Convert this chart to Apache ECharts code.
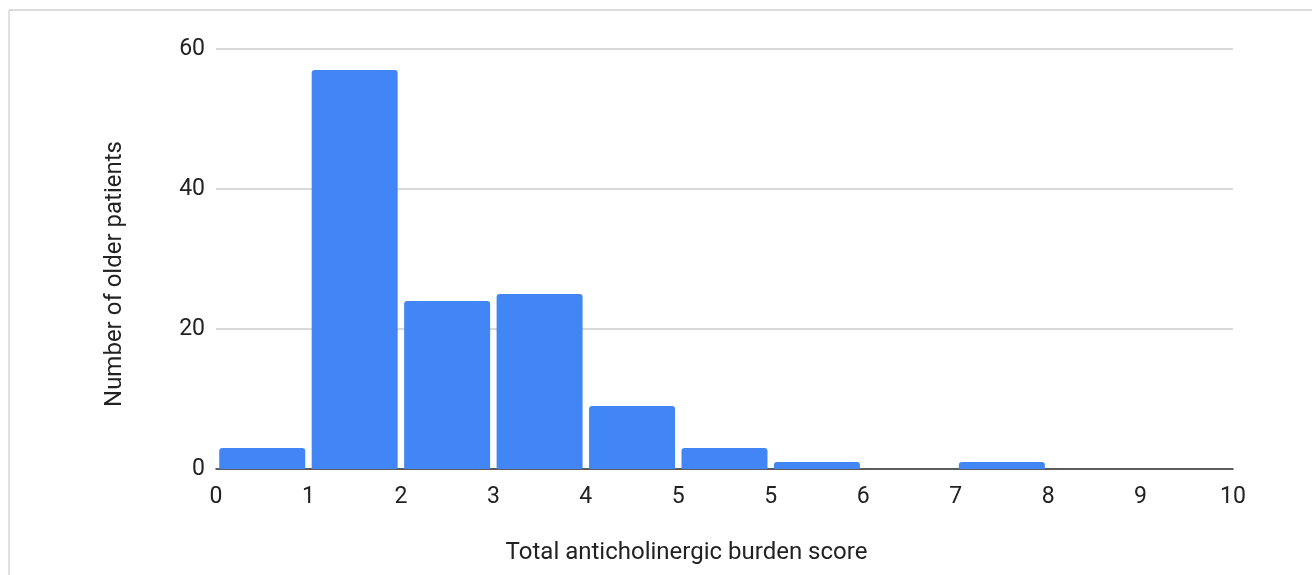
<!DOCTYPE html>
<html>
<head>
<meta charset="utf-8">
<script src="https://cdn.jsdelivr.net/npm/echarts@6/dist/echarts.min.js"></script>
<style>
  html, body { margin: 0; padding: 0; background: #fff; }
  #chart { width: 1312px; height: 575px; }
</style>
</head>
<body>
<div id="chart"></div>
<script>
// bucket edges as printed under the axis (Sheets rounding gives two "5")
var edgeLabels = ['0', '1', '2', '3', '4', '5', '5', '6', '7', '8', '9', '10'];
// one entry per bucket
var buckets = ['b0', 'b1', 'b2', 'b3', 'b4', 'b5', 'b6', 'b7', 'b8', 'b9', 'b10'];
var counts = [3, 57, 24, 25, 9, 3, 1, 0, 1, 0, 0];
var yTicks = [0, 20, 40, 60];

var chart = echarts.init(document.getElementById('chart'));

var textColor = '#222';
var fontFam = 'Roboto, Arial, sans-serif';

var option = {
    animation: false,
    grid: { left: 216, right: 79, top: 49, bottom: 106 },
    graphic: [
        // frame lines on top and left
        { type: 'line', shape: { x1: 9, y1: 10, x2: 1312, y2: 10 }, style: { stroke: '#b7b7b7', lineWidth: 1 } },
        { type: 'line', shape: { x1: 9, y1: 10, x2: 9, y2: 575 }, style: { stroke: '#c4c4c4', lineWidth: 1 } }
    ],
    xAxis: [
        {
            type: 'category',
            data: buckets,
            axisLine: { show: false },
            axisTick: { show: false },
            axisLabel: { show: false },
            splitLine: { show: false }
        },
        {
            type: 'value',
            min: 0,
            max: edgeLabels.length - 1,
            interval: 1,
            position: 'bottom',
            name: 'Total anticholinergic burden score',
            nameLocation: 'middle',
            nameGap: 72,
            // title sits a bit left of the plot centre
            nameTextStyle: { color: textColor, fontSize: 24, fontFamily: fontFam, padding: [0, 76, 0, 0] },
            axisLine: { show: true, lineStyle: { color: '#333', width: 1.5 } },
            axisTick: { show: false },
            splitLine: { show: false },
            axisLabel: {
                color: textColor, fontSize: 23, fontFamily: fontFam, margin: 17,
                formatter: function(v) { return edgeLabels[v]; }
            }
        }
    ],
    yAxis: {
        type: 'value',
        min: yTicks[0],
        max: yTicks[yTicks.length - 1],
        interval: 20,
        name: 'Number of older patients',
        nameLocation: 'middle',
        nameGap: 89,
        // pushed a little below the plot centre
        nameTextStyle: { color: textColor, fontSize: 24, fontFamily: fontFam, padding: [0, 30, 0, 0] },
        axisLine: { show: false },
        axisTick: { show: false },
        axisLabel: { color: textColor, fontSize: 23, fontFamily: fontFam, margin: 11 },
        splitLine: { lineStyle: { color: '#d9d9d9', width: 2 } }
    },
    series: [
        {
            type: 'bar',
            xAxisIndex: 0,
            data: counts,
            barCategoryGap: '7%',
            itemStyle: { color: '#4285f4', borderRadius: [3, 3, 0, 0] },
            z: 1
        }
    ]
};

chart.setOption(option);
window.onresize = function() {
    chart.resize();
};
</script>
</body>
</html>
